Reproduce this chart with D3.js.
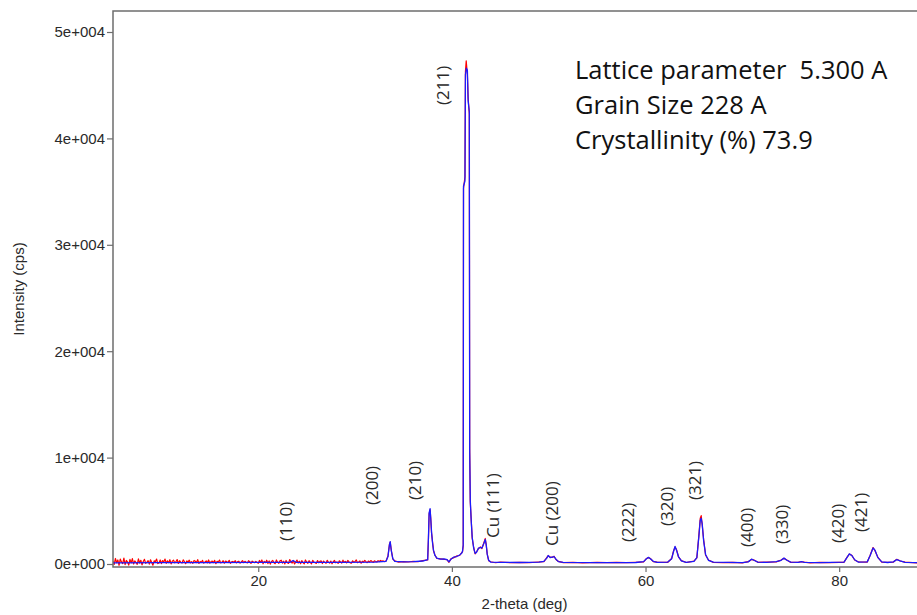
<!DOCTYPE html>
<html>
<head>
<meta charset="utf-8">
<script src="https://cdn.jsdelivr.net/npm/d3@7"></script>
<style>
  html, body { margin: 0; padding: 0; background: #fff; }
  svg { display: block; }
</style>
</head>
<body>
<svg id="chart" width="917" height="615"></svg>
<script>
// X-ray diffraction pattern: observed counts (red) and fitted profile (blue)

const xTicks = [20, 40, 60, 80];
const yTicks = [0, 10000, 20000, 30000, 40000, 50000];
const yTickLabels = ["0e+000", "1e+004", "2e+004", "3e+004", "4e+004", "5e+004"];

// fitted profile: [2-theta (deg), intensity (cps)]
const calcProfile = [
  [5, 110], [10, 120], [15, 135], [20, 150], [23.3, 160], [23.6, 330], [23.9, 160],
  [28, 150], [32, 170], [33.2, 250], [33.4, 700], [33.55, 1800], [33.63, 2100],
  [33.75, 1200], [33.9, 500], [34.1, 250], [35, 200], [36, 220], [37, 280], [37.5, 400],
  [37.58, 2500], [37.65, 4800], [37.75, 5200], [37.82, 4200], [37.9, 3000], [38.0, 2000],
  [38.1, 1300], [38.25, 800], [38.45, 550], [38.8, 450], [39.2, 480], [39.5, 400],
  [39.7, 200], [39.9, 450], [40.2, 650], [40.5, 700], [40.8, 850], [41.0, 1000],
  [41.1, 1200], [41.17, 1800], [41.2, 35500], [41.35, 36000], [41.4, 46000],
  [41.5, 46600], [41.6, 46400], [41.68, 43500], [41.8, 42500], [41.84, 10500],
  [41.9, 6000], [42.0, 4000], [42.1, 2500], [42.25, 1500], [42.4, 1000], [42.55, 1100],
  [42.75, 1500], [42.95, 1550], [43.1, 1500], [43.25, 1800], [43.45, 2300], [43.55, 1800],
  [43.65, 900], [43.8, 350], [44.0, 180], [45, 150], [47, 140], [49, 170], [49.5, 250],
  [49.8, 550], [49.95, 800], [50.15, 600], [50.35, 650], [50.55, 700], [50.75, 450],
  [51, 220], [51.5, 150], [55, 130], [59, 140], [59.8, 220], [60.1, 500], [60.3, 620],
  [60.5, 500], [60.8, 250], [61.2, 150], [62.3, 180], [62.7, 500], [62.9, 1200],
  [63.05, 1650], [63.2, 1300], [63.4, 700], [63.7, 300], [64.2, 160], [65.0, 250],
  [65.3, 600], [65.5, 2500], [65.65, 4100], [65.75, 4300], [65.85, 3800], [66.0, 2200],
  [66.2, 900], [66.5, 350], [67, 170], [70, 130], [70.6, 200], [70.95, 450], [71.2, 350],
  [71.6, 180], [72.5, 150], [73.5, 220], [74.0, 350], [74.3, 550], [74.6, 350], [75, 170],
  [75.8, 150], [76.1, 230], [76.4, 150], [78, 130], [80.5, 180], [80.8, 600], [81.05, 950],
  [81.3, 800], [81.6, 400], [82, 170], [82.9, 200], [83.2, 800], [83.5, 1500], [83.7, 1300],
  [84.0, 600], [84.4, 200], [85, 140], [85.6, 200], [85.95, 420], [86.3, 300], [86.8, 150],
  [88, 130], [90, 120]
];

// observed counts on the regular step scan at low angle
const obsScanStart = 5;
const obsScanStep = 0.125;
const obsScanCounts = [
  260, -40, 520, 120, 380, -120, 460, 190, 40, 560, -60, 330, 200, -100, 430, 110, 500, 0, 290, 160,
  -30, 480, 90, 350, -80, 230, 440, 60, 180, 320, -10, 400, 140, -110, 300, 210, 470, 40, 100, 380,
  40, 320, 190, 460, 60, 300, 120, 400, 10, 260, 360, 110, 210, 420, 50, 310, 170, 90, 390, 220,
  30, 290, 180, 360, 100, 230, 60, 330, 260, 140, 410, 50, 240, 160, 340, 80, 190, 300, 110, 380,
  70, 230, 280, 140, 340, 30, 250, 190, 370, 100, 170, 310, 80, 270, 220, 130, 350, 60, 200, 240,
  150, 310, 100, 220, 260, 80, 190, 320, 120, 250, 160, 100, 310, 220, 50, 270, 180, 120, 250, 150,
  60, 330, 150, 380, 20, 250, 120, 360, 40, 290, -10, 240, 330, 110, 30, 380, 170, 60, 300, 360,
  80, 260, 10, 330, 140, 50, 410, 200, 90, 300, 0, 180, 370, 90, 260, 30, 320, 140, 20, 380,
  190, 70, 310, 160, 20, 340, 200, 120, 60, 320, 110, 250, 290, 40, 270, 150, 60, 350, 180, 80,
  270, 20, 210, 330, 110, 190, 50, 300, 200, 90, 360, 150, 240, 100, 330, 190, 110, 80, 300, 170,
  230, 380, 120, 200, 290, 70, 260, 170, 340, 220, 120, 280, 190, 320, 230, 160, 300, 240, 190, 310,
  230, 330, 250, 300
];

// observed counts through the peak region: [2-theta (deg), intensity (cps)]
const obsPeakProfile = [
  [33.0, 230], [33.2, 280], [33.4, 760], [33.55, 1850], [33.63, 2050], [33.75, 1250],
  [33.9, 460], [34.1, 290], [34.5, 180], [35, 230], [35.5, 190], [36, 250], [36.5, 210],
  [37, 320], [37.5, 380], [37.58, 2400], [37.65, 4700], [37.75, 5100], [37.82, 4300],
  [37.9, 2900], [38.0, 2100], [38.1, 1250], [38.25, 850], [38.45, 520], [38.8, 480],
  [39.2, 430], [39.5, 420], [39.7, 160], [39.9, 480], [40.2, 600], [40.5, 760], [40.8, 800],
  [41.0, 1050], [41.1, 1150], [41.17, 1700], [41.2, 35300], [41.35, 36400], [41.4, 46300],
  [41.48, 47300], [41.6, 46000], [41.68, 43800], [41.8, 42300], [41.84, 10800], [41.9, 5800],
  [42.0, 4100], [42.1, 2400], [42.25, 1550], [42.4, 950], [42.55, 1150], [42.75, 1450],
  [42.95, 1600], [43.1, 1450], [43.25, 1850], [43.45, 2400], [43.55, 1750], [43.65, 950],
  [43.8, 300], [44.0, 210], [44.5, 120], [45, 170], [46, 130], [47, 160], [48, 120],
  [49, 190], [49.5, 230], [49.8, 600], [49.95, 780], [50.15, 640], [50.35, 620],
  [50.55, 730], [50.75, 420], [51, 240], [51.5, 130], [52.5, 160], [53.5, 110], [55, 150],
  [56, 120], [57, 160], [58, 120], [59, 160], [59.8, 200], [60.1, 520], [60.3, 600],
  [60.5, 520], [60.8, 230], [61.2, 170], [62.3, 160], [62.7, 520], [62.9, 1250],
  [63.05, 1600], [63.2, 1350], [63.4, 680], [63.7, 320], [64.2, 140], [65.0, 270],
  [65.3, 580], [65.5, 2600], [65.65, 4300], [65.75, 4550], [65.85, 3700], [66.0, 2300],
  [66.2, 850], [66.5, 380], [67, 150], [68, 120], [69, 160], [70, 110], [70.6, 220],
  [70.95, 430], [71.2, 370], [71.6, 160], [72.5, 170], [73.5, 200], [74.0, 370],
  [74.3, 530], [74.6, 370], [75, 150], [75.8, 170], [76.1, 210], [76.4, 170], [77, 110],
  [78, 150], [79, 120], [80, 150], [80.5, 160], [80.8, 620], [81.05, 930], [81.3, 820],
  [81.6, 380], [82, 190], [82.9, 180], [83.2, 820], [83.5, 1550], [83.7, 1250], [84.0, 620],
  [84.4, 180], [85, 160], [85.6, 180], [85.95, 440], [86.3, 280], [86.8, 170], [88, 110],
  [90, 140]
];

// reflection labels: text, position (2-theta), intensity at the start of the text
const peakLabelText = ["(110)", "(200)", "(210)", "(211)", "Cu (111)", "Cu (200)", "(222)",
  "(320)", "(321)", "(400)", "(330)", "(420)", "(421)"];
const peakLabelTheta = [22.89, 31.77, 36.21, 39.10, 44.27, 50.37, 58.22, 62.25, 65.14,
  70.50, 74.12, 79.90, 82.28];
const peakLabelCounts = [2160, 5540, 6010, 43140, 2440, 1690, 2070, 3570, 6010, 1600,
  1880, 1970, 3010];

const infoLines = ["Lattice parameter  5.300 A", "Grain Size 228 A", "Crystallinity (%) 73.9"];

// ---------------------------------------------------------------------------

const svg = d3.select("#chart");
const plot = { left: 113, top: 11, right: 936, bottom: 567 };

const x = d3.scaleLinear().domain([5, 90]).range([plot.left, plot.right]);
const y = d3.scaleLinear().domain([-282, 51974]).range([plot.bottom, plot.top]);

svg.append("defs").append("clipPath").attr("id", "plot-clip")
  .append("rect")
  .attr("x", plot.left).attr("y", plot.top)
  .attr("width", plot.right - plot.left).attr("height", plot.bottom - plot.top);

const line = d3.line().x(d => x(d[0])).y(d => y(d[1]));

const obsScan = obsScanCounts.map((c, i) => [obsScanStart + i * obsScanStep, c]);
const obsAll = obsScan.filter(d => d[0] < obsPeakProfile[0][0]).concat(obsPeakProfile);

const traces = svg.append("g").attr("clip-path", "url(#plot-clip)");

traces.append("path")
  .datum(obsAll)
  .attr("d", line)
  .attr("fill", "none")
  .attr("stroke", "#ff0000")
  .attr("stroke-width", 1.2)
  .attr("stroke-linejoin", "round");

traces.append("path")
  .datum(calcProfile)
  .attr("d", line)
  .attr("fill", "none")
  .attr("stroke", "#1a1aff")
  .attr("stroke-width", 1.3)
  .attr("stroke-linejoin", "round");

// frame
const frameColor = "#6e6e6e";
svg.append("path")
  .attr("d", `M${plot.right},${plot.top}H${plot.left}V${plot.bottom}H${plot.right}`)
  .attr("fill", "none")
  .attr("stroke", frameColor)
  .attr("stroke-width", 1.5);

// y axis
const yAxis = d3.axisLeft(y)
  .tickValues(yTicks)
  .tickFormat((d, i) => yTickLabels[i])
  .tickSize(6)
  .tickPadding(2);
const gy = svg.append("g").attr("transform", `translate(${plot.left},0)`).call(yAxis);
gy.select(".domain").remove();
gy.selectAll(".tick line").attr("stroke", frameColor).attr("stroke-width", 1.2);
gy.selectAll(".tick text")
  .attr("fill", "#2a2a2a")
  .style("font-family", "'Liberation Sans', Arial, sans-serif")
  .style("font-size", "15px");

// x axis
const xAxis = d3.axisBottom(x)
  .tickValues(xTicks)
  .tickFormat(d3.format("d"))
  .tickSize(5)
  .tickPadding(3);
const gx = svg.append("g").attr("transform", `translate(0,${plot.bottom})`).call(xAxis);
gx.select(".domain").remove();
gx.selectAll(".tick line").attr("stroke", frameColor).attr("stroke-width", 1.2);
gx.selectAll(".tick text")
  .attr("fill", "#2a2a2a")
  .style("font-family", "'Liberation Sans', Arial, sans-serif")
  .style("font-size", "15px");

// axis titles
svg.append("text")
  .attr("x", (x(5) + x(90)) / 2)
  .attr("y", 609)
  .attr("text-anchor", "middle")
  .attr("fill", "#2a2a2a")
  .style("font-family", "'Liberation Sans', Arial, sans-serif")
  .style("font-size", "15px")
  .text("2-theta (deg)");

svg.append("text")
  .attr("transform", `translate(24,${(plot.top + plot.bottom) / 2}) rotate(-90)`)
  .attr("text-anchor", "middle")
  .attr("fill", "#2a2a2a")
  .style("font-family", "'Liberation Sans', Arial, sans-serif")
  .style("font-size", "15px")
  .text("Intensity (cps)");

// reflection labels
svg.append("g")
  .selectAll("text")
  .data(peakLabelText)
  .join("text")
  .attr("transform", (d, i) => `translate(${x(peakLabelTheta[i])},${y(peakLabelCounts[i])}) rotate(-90)`)
  .attr("dy", "0.36em")
  .attr("text-anchor", "start")
  .attr("fill", "#2a2a2a")
  .style("font-family", "'Open Sans', 'Noto Sans', sans-serif")
  .style("font-size", "17px")
  .text(d => d);

// refinement summary
svg.append("g")
  .selectAll("text")
  .data(infoLines)
  .join("text")
  .attr("x", 575)
  .attr("y", (d, i) => 79 + i * 35)
  .attr("fill", "#111")
  .style("font-family", "'Open Sans', 'Noto Sans', sans-serif")
  .style("font-size", "25.5px")
  .style("white-space", "pre")
  .text(d => d);
</script>
</body>
</html>
